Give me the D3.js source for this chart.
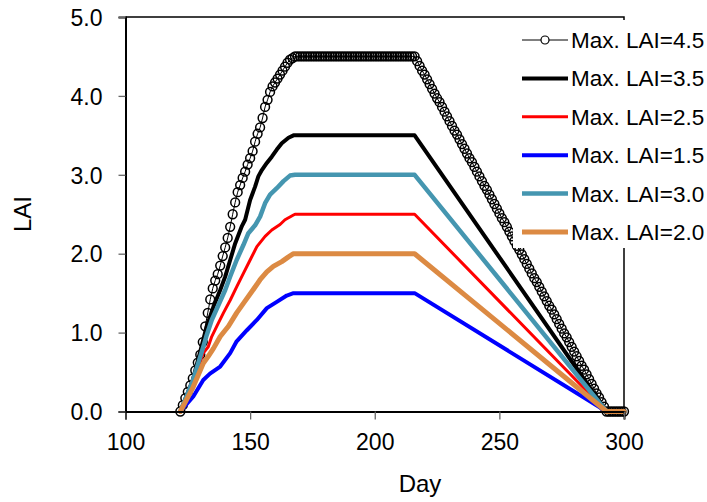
<!DOCTYPE html>
<html>
<head>
<meta charset="utf-8">
<script src="https://cdn.jsdelivr.net/npm/d3@7"></script>
<style>
  html, body { margin: 0; padding: 0; background: #fff; }
  svg { display: block; font-family: "Liberation Sans", Arial, sans-serif; }
</style>
</head>
<body>
<svg id="chart" width="707" height="502"></svg>
<script>
// Daily LAI for the Max. LAI=4.5 run (one marker per day, starting at day 122)
const lai45FirstDay = 122;
const lai45Values = [
  0, 0.08, 0.17, 0.25, 0.33, 0.42, 0.52, 0.62, 0.72, 0.88,
  1.08, 1.25, 1.42, 1.56, 1.66, 1.74, 1.85, 1.97, 2.08, 2.2,
  2.34, 2.5, 2.65, 2.78, 2.87, 2.96, 3.04, 3.13, 3.21, 3.3,
  3.42, 3.52, 3.6, 3.72, 3.86, 3.95, 4.05, 4.12, 4.17, 4.22,
  4.27, 4.32, 4.37, 4.42, 4.46, 4.48, 4.5,
  4.5, 4.5, 4.5, 4.5, 4.5, 4.5, 4.5, 4.5, 4.5, 4.5, 4.5, 4.5,
  4.5, 4.5, 4.5, 4.5, 4.5, 4.5, 4.5, 4.5, 4.5, 4.5, 4.5, 4.5,
  4.5, 4.5, 4.5, 4.5, 4.5, 4.5, 4.5, 4.5, 4.5, 4.5, 4.5, 4.5,
  4.5, 4.5, 4.5, 4.5, 4.5, 4.5, 4.5, 4.5, 4.5, 4.5, 4.5, 4.5,
  4.44, 4.38, 4.32, 4.27, 4.21, 4.15, 4.09, 4.03, 3.97, 3.92,
  3.86, 3.80, 3.74, 3.68, 3.62, 3.56, 3.51, 3.45, 3.39, 3.33,
  3.27, 3.21, 3.16, 3.10, 3.04, 2.98, 2.92, 2.86, 2.81, 2.75,
  2.69, 2.63, 2.57, 2.51, 2.45, 2.40, 2.34, 2.28, 2.22, 2.16,
  2.10, 2.05, 1.99, 1.93, 1.87, 1.81, 1.75, 1.69, 1.64, 1.58,
  1.52, 1.46, 1.40, 1.34, 1.29, 1.23, 1.17, 1.11, 1.05, 0.99,
  0.94, 0.88, 0.82, 0.76, 0.70, 0.64, 0.58, 0.53, 0.47, 0.41,
  0.35, 0.29, 0.23, 0.18, 0.12, 0.06,
  0, 0, 0, 0, 0, 0, 0, 0
];

// [day, LAI] vertices for the other runs
const lai35 = [
  [122, 0], [127, 0.40], [131.2, 0.91], [132.6, 1.08], [135.3, 1.33], [138, 1.54],
  [140, 1.71], [142, 1.92], [144, 2.13], [146.7, 2.35], [148, 2.43], [150, 2.68],
  [152, 2.85], [153.3, 2.98], [154.7, 3.06], [156.7, 3.15], [158.7, 3.23],
  [160.7, 3.32], [162.7, 3.40], [165.4, 3.47], [167.4, 3.5], [216, 3.5], [293, 0], [300, 0]
];
const lai25 = [
  [122, 0], [127, 0.38], [131.2, 0.74], [133.2, 0.82], [134.6, 0.95], [136.6, 1.08],
  [139.3, 1.25], [142, 1.41], [144.6, 1.58], [147.3, 1.75], [150, 1.92], [152.7, 2.09],
  [156, 2.22], [158.7, 2.30], [162, 2.37], [164, 2.43], [167.4, 2.49], [168, 2.5],
  [216, 2.5], [293, 0], [300, 0]
];
const lai15 = [
  [122, 0], [127.2, 0.19], [131.2, 0.40], [133.9, 0.48], [138, 0.57], [142, 0.74],
  [144.6, 0.89], [148.7, 1.03], [152.7, 1.16], [156.7, 1.31], [160.7, 1.39],
  [164.7, 1.47], [167.4, 1.5], [216, 1.5], [293, 0], [300, 0]
];
const lai30 = [
  [122, 0], [127, 0.39], [131.2, 0.82], [132.6, 0.97], [134.6, 1.16], [137.3, 1.35],
  [140, 1.54], [142, 1.71], [144.6, 1.92], [147.3, 2.11], [149.3, 2.26], [152, 2.36],
  [154, 2.47], [156, 2.64], [158, 2.75], [160.7, 2.83], [163.4, 2.92], [166, 2.99],
  [168, 3.0], [216, 3.0], [293, 0], [300, 0]
];
const lai20 = [
  [122, 0], [127, 0.30], [131.2, 0.61], [133.2, 0.70], [135.3, 0.80], [138, 0.95],
  [141.3, 1.08], [144.6, 1.25], [147.3, 1.37], [150.7, 1.52], [154, 1.67],
  [156.7, 1.77], [159.3, 1.84], [162.7, 1.90], [165.4, 1.96], [167.4, 2.0],
  [216, 2.0], [293, 0], [300, 0]
];

const legendLabels = ["Max. LAI=4.5", "Max. LAI=3.5", "Max. LAI=2.5", "Max. LAI=1.5", "Max. LAI=3.0", "Max. LAI=2.0"];
const xTicks = [100, 150, 200, 250, 300];
const yTicks = [0, 1, 2, 3, 4, 5];

const svg = d3.select("#chart");
const x = d3.scaleLinear().domain([100, 300]).range([125.5, 624]);
const y = d3.scaleLinear().domain([0, 5]).range([411.5, 17]);

// plot frame (top and right edges)
svg.append("path")
  .attr("d", `M${x(100)},${y(5)}H${x(300)}V${y(0)}`)
  .attr("fill", "none").attr("stroke", "#000").attr("stroke-width", 1.5);

const line = d3.line().x(d => x(d[0])).y(d => y(d[1]));
const lai45 = lai45Values.map((v, i) => [lai45FirstDay + i, v]);

const styles = [
  { data: lai35, color: "#000000", width: 4 },
  { data: lai25, color: "#ff0000", width: 3 },
  { data: lai15, color: "#0000ff", width: 4 },
  { data: lai30, color: "#4596b0", width: 4.5 },
  { data: lai20, color: "#dc8a43", width: 5 }
];

// Max. LAI=4.5: thin line with open circle markers
svg.append("path").attr("d", line(lai45))
  .attr("fill", "none").attr("stroke", "#000").attr("stroke-width", 1);
svg.append("g").selectAll("circle").data(lai45).join("circle")
  .attr("cx", d => x(d[0])).attr("cy", d => y(d[1])).attr("r", 4.4)
  .attr("fill", "none").attr("stroke", "#000").attr("stroke-width", 1.5);

styles.forEach(s => {
  svg.append("path").attr("d", line(s.data))
    .attr("fill", "none").attr("stroke", s.color).attr("stroke-width", s.width)
    .attr("stroke-linejoin", "round").attr("stroke-linecap", "round");
});

// axes
const xAxis = svg.append("g").attr("transform", `translate(0,${y(0)})`)
  .call(d3.axisBottom(x).tickValues(xTicks).tickSize(8).tickPadding(14).tickFormat(d3.format("d")));
const yAxis = svg.append("g").attr("transform", `translate(${x(100)},0)`)
  .call(d3.axisLeft(y).tickValues(yTicks).tickSize(7).tickPadding(16).tickFormat(d3.format(".1f")));
[xAxis, yAxis].forEach(g => {
  g.select(".domain").attr("stroke", "#000").attr("stroke-width", 2);
  g.selectAll(".tick line").attr("stroke", "#666").attr("stroke-width", 1.3);
  g.selectAll(".tick text").attr("fill", "#000").attr("font-size", 23)
    .attr("font-family", "Liberation Sans, Arial, sans-serif");
});
yAxis.selectAll(".tick text").attr("dy", "0.36em");

svg.append("text").attr("x", 420).attr("y", 492).attr("text-anchor", "middle")
  .attr("font-size", 24).text("Day");
svg.append("text").attr("transform", "translate(31,214) rotate(-90)")
  .attr("text-anchor", "middle").attr("font-size", 24).text("LAI");

// legend
const legend = svg.append("g");
legend.append("rect").attr("x", 513).attr("y", 20).attr("width", 194).attr("height", 228).attr("fill", "#fff");
const legendStyles = [{ color: "#000", width: 1, marker: true }].concat(styles);
legendLabels.forEach((lab, i) => {
  const cy = 40 + i * 38.4;
  const s = legendStyles[i];
  legend.append("line").attr("x1", 522).attr("x2", 568).attr("y1", cy).attr("y2", cy)
    .attr("stroke", s.color).attr("stroke-width", s.width);
  if (s.marker) {
    legend.append("circle").attr("cx", 545).attr("cy", cy).attr("r", 4)
      .attr("fill", "#fff").attr("stroke", "#000").attr("stroke-width", 1.2);
  }
  legend.append("text").attr("x", 571).attr("y", cy + 8).attr("font-size", 22.5).text(lab);
});
</script>
</body>
</html>
